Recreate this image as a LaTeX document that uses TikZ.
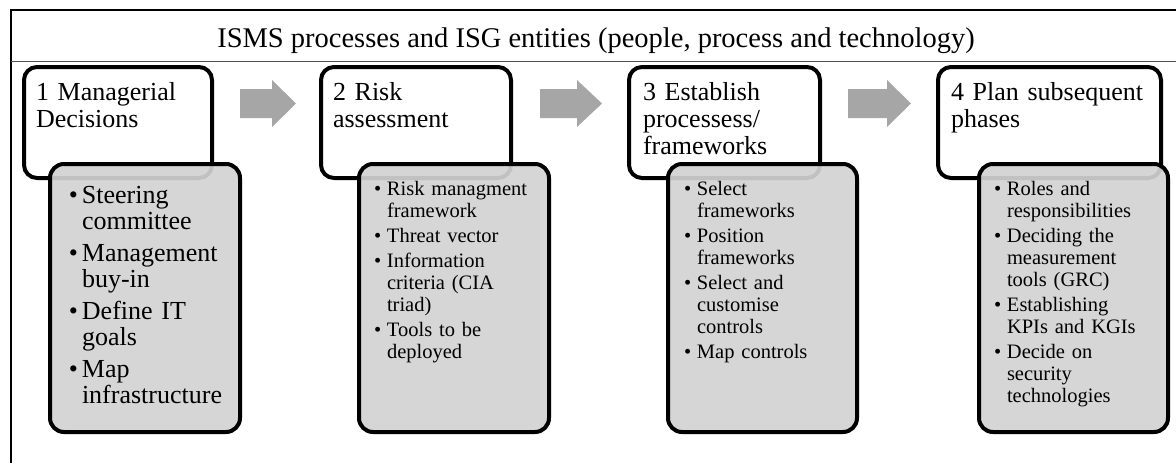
\documentclass[tikz,border=0pt]{standalone}
\usepackage{fontspec}
\setmainfont{Liberation Serif}
\definecolor{boxgray}{HTML}{D2D2D2}
\definecolor{arrowgray}{HTML}{A6A6A6}
\definecolor{sepgray}{HTML}{505050}
\newlength\bhang
\newlength\bgap
\newlength\bsep
\newcommand\bfirst[1]{\noindent\hangindent=\bhang\hangafter=1 \makebox[\bhang][r]{\textbullet\hspace{\bsep}}#1}
\newcommand\bnext[1]{\par\vspace{\bgap}\bfirst{#1}}
\begin{document}
\begin{tikzpicture}[x=1pt,y=-1pt,
  hdrbox/.style={draw=black, line width=4pt, rounded corners=13pt, fill=white,
    inner sep=0pt, outer sep=0pt, anchor=north west, minimum height=111pt},
  detbox/.style={draw=black, line width=4pt, rounded corners=14pt, fill=boxgray,
    fill opacity=0.92, inner sep=0pt, outer sep=0pt, anchor=north west,
    minimum height=268pt},
  hdrtext/.style={anchor=base west, inner sep=0pt, outer sep=0pt, text width=220pt,
    font=\fontsize{26}{27}\selectfont},
  bigtext/.style={anchor=base west, inner sep=0pt, outer sep=0pt, text width=170pt,
    font={\fontsize{26}{26.5}\selectfont\setlength\bhang{16.5pt}\setlength\bgap{5pt}\setlength\bsep{4pt}}},
  smalltext/.style={anchor=base west, inner sep=0pt, outer sep=0pt, text width=170pt,
    font={\fontsize{20.5}{22}\selectfont\setlength\bhang{13pt}\setlength\bgap{3pt}\setlength\bsep{5.8pt}}},
  titletext/.style={anchor=base, inner sep=0pt, font=\fontsize{28.5}{30}\selectfont},
  blockarrow/.style={fill=arrowgray}
]
\useasboundingbox (0,0) rectangle (1176,463);

% outer frame
\draw[line width=1.5pt] (10,10) -- (1176,10);
\draw[line width=2.5pt] (11,9.5) -- (11,463);
\draw[line width=0.8pt, draw=sepgray] (11,61) -- (1176,61);
\node[titletext] (title) at (596,47) {ISMS processes and ISG entities (people, process and technology)};

% header boxes
\node[hdrbox, minimum width=188pt] (h1) at (24,67) {};
\node[hdrbox, minimum width=190pt] (h2) at (321,67) {};
\node[hdrbox, minimum width=191pt] (h3) at (629,67) {};
\node[hdrbox, minimum width=223pt] (h4) at (938,67) {};

% arrows
\fill[blockarrow] (240,89) -- (272,89) -- (272,80) -- (296,103.5) -- (272,127) -- (272,118) -- (240,118) -- cycle;
\fill[blockarrow] (540,89) -- (577,89) -- (577,80) -- (602,103.5) -- (577,127) -- (577,118) -- (540,118) -- cycle;
\fill[blockarrow] (848,89) -- (887,89) -- (887,80) -- (911,103.5) -- (887,127) -- (887,118) -- (848,118) -- cycle;

% detail boxes
\node[detbox, minimum width=190pt] (g1) at (50,164) {};
\node[detbox, minimum width=190pt] (g2) at (359,164) {};
\node[detbox, minimum width=189pt] (g3) at (668,164) {};
\node[detbox, minimum width=189pt] (g4) at (979,164) {};

% header texts
\node[hdrtext] (t1) at (36,100) {1 Managerial\newline Decisions};
\node[hdrtext] (t2) at (333,100) {2 Risk\newline assessment};
\node[hdrtext] (t3) at (643,100) {3 Establish\newline processess/\newline frameworks};
\node[hdrtext] (t4) at (951,100) {4 Plan subsequent\newline phases};

% detail texts
\node[bigtext] (l1) at (65.5,203) {\bfirst{Steering\newline committee}\bnext{Management\newline buy-in}\bnext{Define IT\newline goals}\bnext{Map\newline infrastructure}\par};
\node[smalltext] (l2) at (374,195) {\bfirst{Risk managment\newline framework}\bnext{Threat vector}\bnext{Information\newline criteria (CIA\newline triad)}\bnext{Tools to be\newline deployed}\par};
\node[smalltext] (l3) at (684,195) {\bfirst{Select\newline frameworks}\bnext{Position\newline frameworks}\bnext{Select and\newline customise\newline controls}\bnext{Map controls}\par};
\node[smalltext] (l4) at (994,195) {\bfirst{Roles and\newline responsibilities}\bnext{Deciding the\newline measurement\newline tools (GRC)}\bnext{Establishing\newline KPIs and KGIs}\bnext{Decide on\newline security\newline technologies}\par};
\end{tikzpicture}
\end{document}
